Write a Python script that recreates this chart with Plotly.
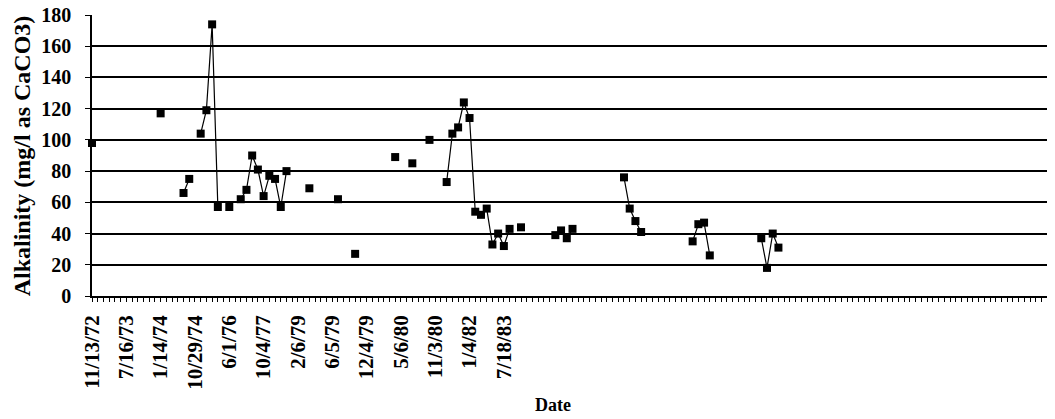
import plotly.graph_objects as go

# Category axis: 169 slots, only every 6th slot carries a date label
N_CATEGORIES = 169
DATE_LABELS = ["11/13/72", "7/16/73", "1/14/74", "10/29/74", "6/1/76", "10/4/77",
               "2/6/79", "6/5/79", "12/4/79", "5/6/80", "11/3/80", "1/4/82", "7/18/83"]
LABEL_EVERY = 6

# Sample slots (category index) and measured alkalinity
SLOT = [0, 12, 16, 17, 19, 20, 21, 22, 24, 26, 27, 28, 29, 30, 31, 32, 33, 34,
        38, 43, 46, 53, 56, 59, 62, 63, 64, 65, 66, 67, 68, 69, 70, 71, 72, 73,
        75, 81, 82, 83, 84, 93, 94, 95, 96, 105, 106, 107, 108, 117, 118, 119, 120]
ALKALINITY = [98, 117, 66, 75, 104, 119, 174, 57, 57, 62, 68, 90, 81, 64, 77, 75, 57, 80,
              69, 62, 27, 89, 85, 100, 73, 104, 108, 124, 114, 54, 52, 56, 33, 40, 32, 43,
              44, 39, 42, 37, 43, 76, 56, 48, 41, 35, 46, 47, 26, 37, 18, 40, 31]

y_full = [None] * N_CATEGORIES
for s, v in zip(SLOT, ALKALINITY):
    y_full[s] = v

tick_vals = list(range(N_CATEGORIES))
tick_text = [""] * N_CATEGORIES
for i, lab in enumerate(DATE_LABELS):
    tick_text[i * LABEL_EVERY] = lab

FONT = "Liberation Serif"

fig = go.Figure()
fig.add_trace(go.Scatter(
    x=tick_vals, y=y_full, mode="lines+markers", connectgaps=False,
    line=dict(color="black", width=1.2),
    marker=dict(symbol="square", size=8, color="black"),
    showlegend=False, cliponaxis=False,
))

# the page body has an 8px margin, so the figure is 8px smaller and margins shifted
fig.update_layout(
    width=1047, height=411,
    margin=dict(l=84, r=2, t=7, b=123),
    paper_bgcolor="white", plot_bgcolor="white",
    font=dict(family=FONT, color="black", size=14),
    xaxis=dict(
        range=[0, N_CATEGORIES - 1], automargin=False,
        tickmode="array", tickvals=tick_vals, ticktext=tick_text,
        tickangle=-90, ticks="outside", ticklen=4, tickwidth=1, tickcolor="black",
        ticklabelstandoff=5, ticklabeloverflow="allow",
        tickfont=dict(family=FONT, size=21, weight="bold"),
        showline=True, linecolor="black", linewidth=1.5,
        showgrid=False, zeroline=False,
    ),
    # second copy of the x axis only to draw the inward half of the cross ticks
    xaxis2=dict(
        overlaying="x", anchor="y", side="bottom", automargin=False,
        range=[0, N_CATEGORIES - 1], tickmode="linear", tick0=0, dtick=1,
        ticks="inside", ticklen=4, tickwidth=1, tickcolor="black",
        showticklabels=False, showgrid=False, zeroline=False, showline=False,
    ),
    yaxis=dict(
        range=[0, 180], tickmode="linear", tick0=0, dtick=20, automargin=False,
        ticks="outside", ticklen=5, tickwidth=1, tickcolor="black",
        ticklabelstandoff=10, ticklabeloverflow="allow",
        tickfont=dict(family=FONT, size=20, weight="bold"),
        showline=True, linecolor="black", linewidth=1.5,
        showgrid=True, gridcolor="black", gridwidth=1.5, zeroline=False,
    ),
    annotations=[
        dict(text="Alkalinity (mg/l as CaCO3)", xref="paper", yref="paper",
             x=-0.073, y=0.5, xanchor="center", yanchor="middle", textangle=-90,
             showarrow=False, font=dict(family=FONT, size=24, weight="bold")),
        dict(text="Date", xref="paper", yref="paper", x=0.48, y=-0.388,
             xanchor="center", yanchor="middle",
             showarrow=False, font=dict(family=FONT, size=18, weight="bold")),
    ],
)

fig.write_html("out.html")
